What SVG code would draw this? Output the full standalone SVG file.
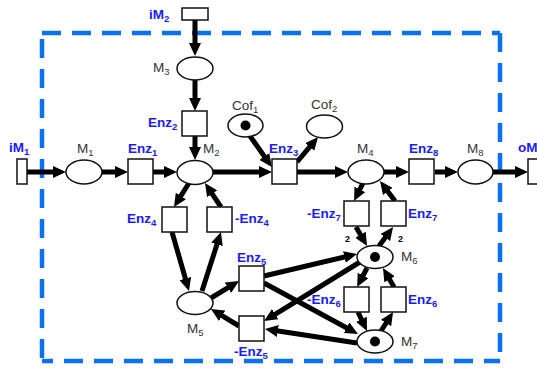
<svg xmlns="http://www.w3.org/2000/svg" width="537" height="369" viewBox="0 0 537 369">
  <style>
    .place { fill: #fff; stroke: #111; stroke-width: 1.5; }
    .trans { fill: #fff; stroke: #111; stroke-width: 1.5; }
    .token { fill: #000; }
    .arc { stroke: #000; stroke-width: 5; fill: none; marker-end: url(#head); }
    .lbl { font-family: "Liberation Sans", Arial, sans-serif; font-size: 13.5px; fill: #333; }
    .enz { font-family: "Liberation Sans", Arial, sans-serif; font-size: 13.5px; font-weight: bold; fill: #1a1aff; }
    .sub { font-size: 9.5px; }
    .w { font-family: "Liberation Sans", Arial, sans-serif; font-size: 9px; font-weight: bold; fill: #000; }
    .bound { stroke: #0a72f2; stroke-width: 4.5; fill: none; stroke-dasharray: 19 11; }
  </style>
  <defs>
    <marker id="head" markerUnits="userSpaceOnUse" markerWidth="13" markerHeight="12" refX="3" refY="6" orient="auto">
      <path d="M0,0 L13,6 L0,12 z" fill="#000"/>
    </marker>
  </defs>

  <!-- system boundary -->
  <g id="boundary">
    <line class="bound" x1="42" y1="33" x2="500" y2="33"/>
    <line class="bound" x1="500" y1="33" x2="500" y2="361"/>
    <line class="bound" x1="42" y1="361" x2="500" y2="361" stroke-dashoffset="8"/>
    <line class="bound" x1="42" y1="33" x2="42" y2="361" stroke-dashoffset="24"/>
  </g>

  <!-- arcs -->
  <g id="arcs">
    <line class="arc" x1="27" y1="172" x2="56" y2="172"/>
    <line class="arc" x1="102" y1="172" x2="118" y2="172"/>
    <line class="arc" x1="153" y1="172" x2="167" y2="172"/>
    <line class="arc" x1="195" y1="20" x2="195" y2="46"/>
    <line class="arc" x1="195" y1="80" x2="195" y2="101"/>
    <line class="arc" x1="195" y1="136" x2="195" y2="150"/>
    <line class="arc" x1="213" y1="172" x2="262" y2="172"/>
    <line class="arc" x1="250" y1="136" x2="266.1" y2="158.9"/>
    <line class="arc" x1="297" y1="162" x2="311.6" y2="144.7"/>
    <line class="arc" x1="297" y1="172" x2="338" y2="172"/>
    <line class="arc" x1="384" y1="172" x2="399" y2="172"/>
    <line class="arc" x1="435" y1="172" x2="448" y2="172"/>
    <line class="arc" x1="493" y1="172" x2="518" y2="172"/>

    <line class="arc" x1="189" y1="183" x2="179.3" y2="198.5"/>
    <line class="arc" x1="221" y1="207" x2="210.5" y2="191.3"/>
    <line class="arc" x1="172" y1="232" x2="186.2" y2="281.4"/>
    <line class="arc" x1="202" y1="291" x2="217.9" y2="241.5"/>
    <line class="arc" x1="211" y1="298" x2="230.5" y2="286.2"/>
    <line class="arc" x1="239" y1="326" x2="219.5" y2="314.2"/>

    <line class="arc" x1="264" y1="276" x2="347.3" y2="256.3"/>
    <line class="arc" x1="264" y1="283" x2="349.2" y2="329.2"/>
    <line class="arc" x1="360" y1="262" x2="272.6" y2="315.8"/>
    <line class="arc" x1="357" y1="343" x2="274.9" y2="330.5"/>

    <line class="arc" x1="364" y1="181" x2="358.5" y2="192.1"/>
    <line class="arc" x1="395" y1="201" x2="386" y2="189"/>
    <line class="arc" x1="356" y1="227" x2="362" y2="237.3"/>
    <line class="arc" x1="379" y1="246" x2="387.1" y2="235.1"/>
    <line class="arc" x1="367" y1="268" x2="361.7" y2="278.2"/>
    <line class="arc" x1="394" y1="287" x2="388" y2="276.7"/>
    <line class="arc" x1="358" y1="312" x2="362.7" y2="322"/>
    <line class="arc" x1="381" y1="331" x2="387.7" y2="320.5"/>

    <text class="w" x="345" y="242">2</text>
    <text class="w" x="398" y="242">2</text>
  </g>

  <!-- boundary transitions -->
  <g id="iM1">
    <rect class="trans" x="17" y="159" width="10" height="25"/>
    <text class="enz" x="9" y="152">iM<tspan class="sub" dy="3">1</tspan></text>
  </g>
  <g id="iM2">
    <rect class="trans" x="182" y="8" width="26" height="12"/>
    <text class="enz" x="149" y="18.5">iM<tspan class="sub" dy="3">2</tspan></text>
  </g>
  <g id="oM">
    <rect class="trans" x="528" y="159" width="12" height="25"/>
    <text class="enz" x="518" y="152">oM</text>
  </g>

  <!-- places -->
  <g id="M1">
    <ellipse class="place" cx="84" cy="172" rx="18" ry="12"/>
    <text class="lbl" x="77" y="153">M<tspan class="sub" dy="3">1</tspan></text>
  </g>
  <g id="M2">
    <ellipse class="place" cx="195" cy="172.5" rx="18" ry="12"/>
    <text class="lbl" x="203" y="153">M<tspan class="sub" dy="3">2</tspan></text>
  </g>
  <g id="M3">
    <ellipse class="place" cx="195" cy="68.5" rx="18" ry="11.5"/>
    <text class="lbl" x="153" y="72">M<tspan class="sub" dy="3">3</tspan></text>
  </g>
  <g id="Cof1">
    <ellipse class="place" cx="245.5" cy="125.5" rx="17.5" ry="11.5"/>
    <circle class="token" cx="245.5" cy="125.5" r="5"/>
    <text class="lbl" x="232" y="110">Cof<tspan class="sub" dy="3">1</tspan></text>
  </g>
  <g id="Cof2">
    <ellipse class="place" cx="324.5" cy="126.5" rx="18" ry="11.5"/>
    <text class="lbl" x="311" y="109">Cof<tspan class="sub" dy="3">2</tspan></text>
  </g>
  <g id="M4">
    <ellipse class="place" cx="366" cy="172" rx="18" ry="12"/>
    <text class="lbl" x="357" y="152.5">M<tspan class="sub" dy="3">4</tspan></text>
  </g>
  <g id="M8">
    <ellipse class="place" cx="475.5" cy="172" rx="17.5" ry="12"/>
    <text class="lbl" x="467" y="152.5">M<tspan class="sub" dy="3">8</tspan></text>
  </g>
  <g id="M5">
    <ellipse class="place" cx="195" cy="303" rx="18" ry="11.5"/>
    <text class="lbl" x="187" y="333">M<tspan class="sub" dy="3">5</tspan></text>
  </g>
  <g id="M6">
    <ellipse class="place" cx="375" cy="257" rx="18" ry="11.5"/>
    <circle class="token" cx="375" cy="257" r="5"/>
    <text class="lbl" x="401" y="261">M<tspan class="sub" dy="3">6</tspan></text>
  </g>
  <g id="M7">
    <ellipse class="place" cx="375" cy="341.5" rx="18" ry="11.5"/>
    <circle class="token" cx="375" cy="341.5" r="5"/>
    <text class="lbl" x="401" y="346">M<tspan class="sub" dy="3">7</tspan></text>
  </g>

  <!-- enzyme transitions -->
  <g id="Enz1">
    <rect class="trans" x="128" y="159" width="25" height="25"/>
    <text class="enz" x="128" y="152.5">Enz<tspan class="sub" dy="3">1</tspan></text>
  </g>
  <g id="Enz2">
    <rect class="trans" x="182" y="111" width="25" height="25"/>
    <text class="enz" x="148" y="127">Enz<tspan class="sub" dy="3">2</tspan></text>
  </g>
  <g id="Enz3">
    <rect class="trans" x="272" y="159" width="25" height="25"/>
    <text class="enz" x="269" y="152.5">Enz<tspan class="sub" dy="3">3</tspan></text>
  </g>
  <g id="Enz8">
    <rect class="trans" x="409" y="159" width="25" height="25"/>
    <text class="enz" x="409" y="152.5">Enz<tspan class="sub" dy="3">8</tspan></text>
  </g>
  <g id="Enz4">
    <rect class="trans" x="162" y="207" width="25" height="25"/>
    <text class="enz" x="127" y="223">Enz<tspan class="sub" dy="3">4</tspan></text>
  </g>
  <g id="Enz4r">
    <rect class="trans" x="207" y="207" width="25" height="25"/>
    <text class="enz" x="235" y="223">-Enz<tspan class="sub" dy="3">4</tspan></text>
  </g>
  <g id="Enz5">
    <rect class="trans" x="239" y="266" width="25" height="25"/>
    <text class="enz" x="237" y="262">Enz<tspan class="sub" dy="3">5</tspan></text>
  </g>
  <g id="Enz5r">
    <rect class="trans" x="239" y="316" width="25" height="25"/>
    <text class="enz" x="234" y="356">-Enz<tspan class="sub" dy="3">5</tspan></text>
  </g>
  <g id="Enz7r">
    <rect class="trans" x="344" y="201" width="25" height="25"/>
    <text class="enz" x="307" y="217.5">-Enz<tspan class="sub" dy="3">7</tspan></text>
  </g>
  <g id="Enz7">
    <rect class="trans" x="381" y="201" width="25" height="25"/>
    <text class="enz" x="408" y="217.5">Enz<tspan class="sub" dy="3">7</tspan></text>
  </g>
  <g id="Enz6r">
    <rect class="trans" x="344" y="287" width="25" height="25"/>
    <text class="enz" x="307" y="304">-Enz<tspan class="sub" dy="3">6</tspan></text>
  </g>
  <g id="Enz6">
    <rect class="trans" x="381" y="287" width="25" height="25"/>
    <text class="enz" x="408" y="304">Enz<tspan class="sub" dy="3">6</tspan></text>
  </g>
</svg>
